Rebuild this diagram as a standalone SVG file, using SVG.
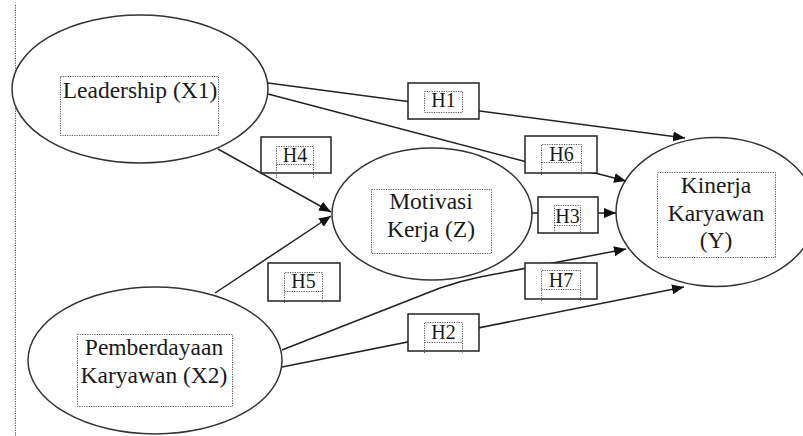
<svg xmlns="http://www.w3.org/2000/svg" width="803" height="436" viewBox="0 0 803 436">
<style>
.ell{fill:#fff;stroke:#333;stroke-width:1.5}
.frame{fill:none;stroke:#555;stroke-width:1;stroke-dasharray:1.2 1.2}
.lbl{font-family:"Liberation Serif","Times New Roman",serif;font-size:23.5px;fill:#1a1a1a;text-anchor:middle}
.hbox{fill:#fff;stroke:#222;stroke-width:1.5}
.htxt{font-family:"Liberation Serif","Times New Roman",serif;font-size:20px;fill:#1a1a1a;text-anchor:middle}
.con{fill:none;stroke:#222;stroke-width:1.5}
</style>
<defs>
<marker id="arr" viewBox="0 0 12 10" refX="12" refY="5" markerWidth="12" markerHeight="10" markerUnits="userSpaceOnUse" orient="auto">
<path d="M0,0 L12,5 L0,10 z" fill="#111"/>
</marker>
</defs>
<rect width="803" height="436" fill="#fff"/>
<line x1="15.5" y1="5" x2="15.5" y2="436" class="frame"/>

<g id="leadership">
<ellipse class="ell" cx="140" cy="89" rx="128" ry="74"/>
<rect class="frame" x="60.5" y="76.5" width="158" height="59"/>
<text class="lbl" x="140" y="98">Leadership (X1)</text>
</g>
<g id="motivasi">
<ellipse class="ell" cx="432" cy="214" rx="100" ry="66"/>
<rect class="frame" x="371.5" y="189.5" width="120" height="64"/>
<text class="lbl" x="431" y="209">Motivasi</text>
<text class="lbl" x="431" y="237">Kerja (Z)</text>
</g>
<g id="kinerja">
<ellipse class="ell" cx="716" cy="212" rx="100" ry="74.5"/>
<rect class="frame" x="657.5" y="172.5" width="118" height="85"/>
<text class="lbl" x="716" y="193">Kinerja</text>
<text class="lbl" x="716" y="220.5">Karyawan</text>
<text class="lbl" x="716" y="248">(Y)</text>
</g>
<g id="pemberdayaan">
<ellipse class="ell" cx="155" cy="360.5" rx="127" ry="73.5"/>
<rect class="frame" x="77.5" y="334.5" width="155" height="72"/>
<text class="lbl" x="154" y="355">Pemberdayaan</text>
<text class="lbl" x="154" y="383">Karyawan (X2)</text>
</g>

<g id="connectors">
<line class="con" x1="268" y1="83" x2="685" y2="138" marker-end="url(#arr)"/>
<polyline class="con" points="268,94 525,161.5 597,173.5 626,181" marker-end="url(#arr)"/>
<line class="con" x1="218" y1="149" x2="331" y2="212" marker-end="url(#arr)"/>
<line class="con" x1="215" y1="293" x2="331" y2="216" marker-end="url(#arr)"/>
<line class="con" x1="532" y1="213" x2="616" y2="213" marker-end="url(#arr)"/>
<path class="con" d="M282,350 L440,288 Q460,281 480,277 L626,249" marker-end="url(#arr)"/>
<line class="con" x1="282" y1="367" x2="684" y2="287" marker-end="url(#arr)"/>
</g>

<g id="h1">
<rect class="hbox" x="408" y="83" width="71" height="36"/>
<rect class="frame" x="424.5" y="91.5" width="38" height="21"/>
<text class="htxt" x="443.5" y="107">H1</text>
</g>
<g id="h6">
<rect class="hbox" x="525" y="136" width="72" height="37"/>
<path class="frame" d="M541.5,175 V144.5 H581.5 V175 M541.5,162.5 H581.5"/>
<text class="htxt" x="561.5" y="160.5">H6</text>
</g>
<g id="h4">
<rect class="hbox" x="261" y="137" width="70" height="36"/>
<path class="frame" d="M276.5,178 V146.5 H313.5 V178 M276.5,164.5 H313.5"/>
<text class="htxt" x="295" y="161.5">H4</text>
</g>
<g id="h3">
<rect class="hbox" x="538" y="197" width="60" height="36"/>
<path class="frame" d="M554.5,233 V205.5 H580.5 V233 M554.5,225.5 H580.5"/>
<text class="htxt" x="567.5" y="223">H3</text>
</g>
<g id="h5">
<rect class="hbox" x="268" y="263" width="72" height="38"/>
<path class="frame" d="M284.5,303 V272.5 H322.5 V303 M284.5,291.5 H322.5"/>
<text class="htxt" x="303.5" y="288">H5</text>
</g>
<g id="h7">
<rect class="hbox" x="525" y="263" width="72" height="36"/>
<path class="frame" d="M541.5,301 V270.5 H580.5 V301 M541.5,289.5 H580.5"/>
<text class="htxt" x="561" y="286.5">H7</text>
</g>
<g id="h2">
<rect class="hbox" x="408" y="314" width="71" height="37"/>
<path class="frame" d="M424.5,353 V322.5 H462.5 V353 M424.5,342.5 H462.5"/>
<text class="htxt" x="443.5" y="339">H2</text>
</g>
</svg>
